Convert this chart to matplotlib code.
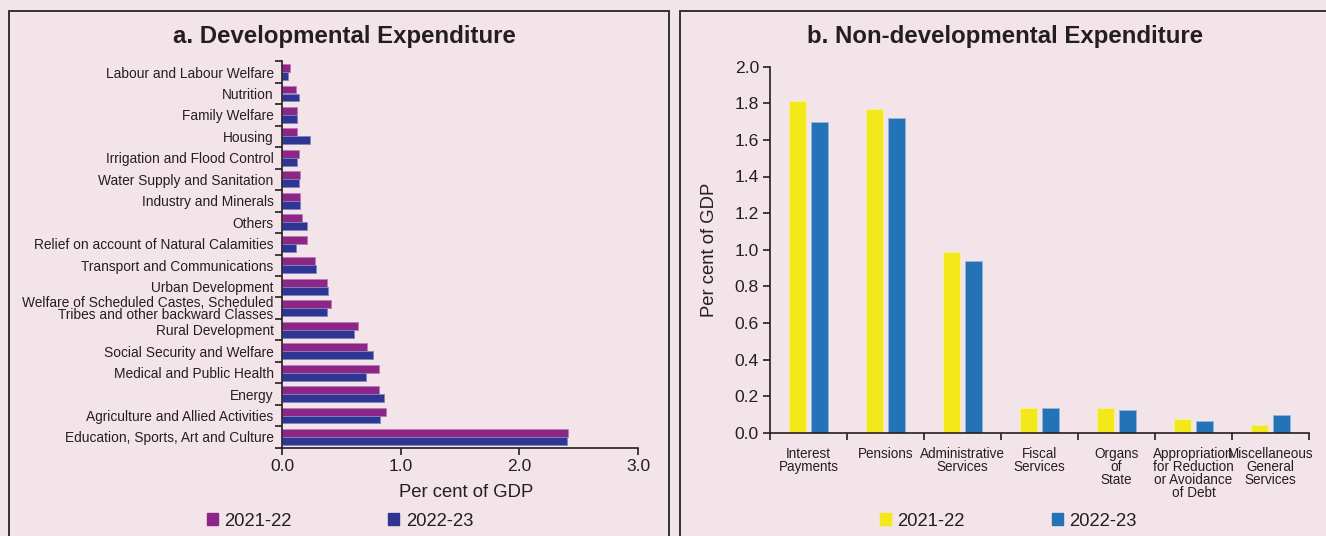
import matplotlib
matplotlib.use("Agg")
import matplotlib.pyplot as plt
from matplotlib.patches import Rectangle, Patch
import numpy as np

plt.rcParams['font.family'] = ['Liberation Sans', 'DejaVu Sans']

# ---------------- data ----------------
dev_categories = [
    "Labour and Labour Welfare", "Nutrition", "Family Welfare", "Housing",
    "Irrigation and Flood Control", "Water Supply and Sanitation",
    "Industry and Minerals", "Others", "Relief on account of Natural Calamities",
    "Transport and Communications", "Urban Development",
    "Welfare of Scheduled Castes, Scheduled\nTribes and other backward Classes",
    "Rural Development", "Social Security and Welfare",
    "Medical and Public Health", "Energy", "Agriculture and Allied Activities",
    "Education, Sports, Art and Culture",
]
dev_2021 = [0.07, 0.12, 0.13, 0.13, 0.14, 0.15, 0.15, 0.17, 0.21, 0.28, 0.38,
            0.41, 0.64, 0.72, 0.82, 0.82, 0.88, 2.41]
dev_2022 = [0.05, 0.14, 0.13, 0.24, 0.13, 0.14, 0.15, 0.21, 0.12, 0.29, 0.39,
            0.38, 0.61, 0.77, 0.71, 0.86, 0.83, 2.40]

nondev_categories = [
    "Interest\nPayments", "Pensions", "Administrative\nServices",
    "Fiscal\nServices", "Organs\nof\nState",
    "Appropriation\nfor Reduction\nor Avoidance\nof Debt",
    "Miscellaneous\nGeneral\nServices",
]
nondev_2021 = [1.81, 1.77, 0.99, 0.137, 0.133, 0.075, 0.042]
nondev_2022 = [1.70, 1.72, 0.94, 0.133, 0.126, 0.062, 0.098]

series_labels = ["2021-22", "2022-23"]
dev_ticks = [0.0, 1.0, 2.0, 3.0]
nondev_ticks = [0.0, 0.2, 0.4, 0.6, 0.8, 1.0, 1.2, 1.4, 1.6, 1.8, 2.0]

# ---------------- style ----------------
W, H = 1326, 536
BG = "#F3E4EA"
TXT = "#231F20"
C_MAG = "#8E2687"
C_NAVY = "#2E3593"
C_YEL = "#F2E81A"
C_BLUE = "#2473B6"

def fx(px):
    return px / W

def fy(py):
    return 1 - py / H

def px2pt(px):
    return px * 72 / 100

fig = plt.figure(figsize=(W / 100, H / 100), dpi=100, facecolor=BG)

# panel boxes
for x0, x1 in [(9, 669), (680, 1340)]:
    fig.patches.append(Rectangle((fx(x0), fy(545)), fx(x1) - fx(x0), fy(11) - fy(545),
                                 transform=fig.transFigure, fill=False,
                                 edgecolor="#333333", linewidth=1.4))

fig.text(fx(344), fy(37), "a. Developmental Expenditure", ha="center", va="center",
         fontsize=px2pt(24), fontweight="bold", color=TXT)
fig.text(fx(1005), fy(37), "b. Non-developmental Expenditure", ha="center", va="center",
         fontsize=px2pt(24), fontweight="bold", color=TXT)

# ---------------- panel a ----------------
ax1 = fig.add_axes([fx(282), fy(447.7), fx(638) - fx(282), fy(61.3) - fy(447.7)])
ax1.set_facecolor(BG)
n = len(dev_categories)
y = np.arange(n)
h = 0.37
ax1.barh(y - h / 2, dev_2021, height=h, color=C_MAG, edgecolor="#B77DB3", linewidth=0.6)
ax1.barh(y + h / 2, dev_2022, height=h, color=C_NAVY, edgecolor="#7F86C4", linewidth=0.6)
ax1.set_ylim(n - 0.5, -0.5)
ax1.set_xlim(0, 3.0)
ax1.set_yticks(np.arange(n + 1) - 0.5)
ax1.set_yticklabels([])
ax1.set_yticks(y, dev_categories, minor=True)
ax1.tick_params(axis="y", which="minor", length=0, pad=6, labelsize=px2pt(13.8), labelcolor=TXT)
ax1.tick_params(axis="y", which="major", length=5, width=1.2, color=TXT)
for lab in ax1.get_yticklabels(minor=True):
    lab.set_linespacing(0.82)
ax1.set_xticks(dev_ticks, [f"{v:.1f}" for v in dev_ticks])
ax1.tick_params(axis="x", length=5, width=1.2, color=TXT, labelsize=px2pt(17.5), labelcolor=TXT, pad=3)
for s in ["top", "right"]:
    ax1.spines[s].set_visible(False)
for s in ["left", "bottom"]:
    ax1.spines[s].set_color(TXT)
    ax1.spines[s].set_linewidth(1.2)
ax1.set_xlabel("Per cent of GDP", fontsize=px2pt(18.5), color=TXT, labelpad=7)
ax1.xaxis.set_label_coords((466 - 282) / (638 - 282), -0.095)

leg1 = fig.legend(handles=[Patch(color=C_MAG), Patch(color=C_NAVY)], labels=series_labels,
                  loc="center left", bbox_to_anchor=(fx(207), fy(521)), ncol=2,
                  frameon=False, fontsize=px2pt(18.5), handlelength=0.6, handleheight=0.65,
                  handletextpad=0.35, columnspacing=5.2, borderaxespad=0, borderpad=0)
for t in leg1.get_texts():
    t.set_color(TXT)

# ---------------- panel b ----------------
ax2 = fig.add_axes([fx(770), fy(432.7), fx(1309) - fx(770), fy(66.7) - fy(432.7)])
ax2.set_facecolor(BG)
m = len(nondev_categories)
x = np.arange(m)
w = 0.22
off = 0.14
ax2.bar(x - off, nondev_2021, width=w, color=C_YEL, edgecolor="#F7F09A", linewidth=0.6)
ax2.bar(x + off, nondev_2022, width=w, color=C_BLUE, edgecolor="#8FB8DE", linewidth=0.6)
ax2.set_xlim(-0.5, m - 0.5)
ax2.set_ylim(0, 2.0)
ax2.set_xticks(np.arange(m + 1) - 0.5)
ax2.set_xticklabels([])
ax2.set_xticks(x, nondev_categories, minor=True)
ax2.tick_params(axis="x", which="minor", length=0, pad=10, labelsize=px2pt(13.5), labelcolor=TXT)
for lab in ax2.get_xticklabels(minor=True):
    lab.set_linespacing(0.92)
ax2.tick_params(axis="x", which="major", length=5, width=1.2, color=TXT)
ax2.set_yticks(nondev_ticks, [f"{v:.1f}" for v in nondev_ticks])
ax2.tick_params(axis="y", length=5, width=1.2, color=TXT, labelsize=px2pt(17.5), labelcolor=TXT, pad=3)
for s in ["top", "right"]:
    ax2.spines[s].set_visible(False)
for s in ["left", "bottom"]:
    ax2.spines[s].set_color(TXT)
    ax2.spines[s].set_linewidth(1.2)
ax2.set_ylabel("Per cent of GDP", fontsize=px2pt(18.5), color=TXT, labelpad=12)

leg2 = fig.legend(handles=[Patch(color=C_YEL), Patch(color=C_BLUE)], labels=series_labels,
                  loc="center left", bbox_to_anchor=(fx(880), fy(521)), ncol=2,
                  frameon=False, fontsize=px2pt(18.5), handlelength=0.6, handleheight=0.65,
                  handletextpad=0.35, columnspacing=4.7, borderaxespad=0, borderpad=0)
for t in leg2.get_texts():
    t.set_color(TXT)

fig.savefig("out.png", dpi=100, facecolor=BG)
